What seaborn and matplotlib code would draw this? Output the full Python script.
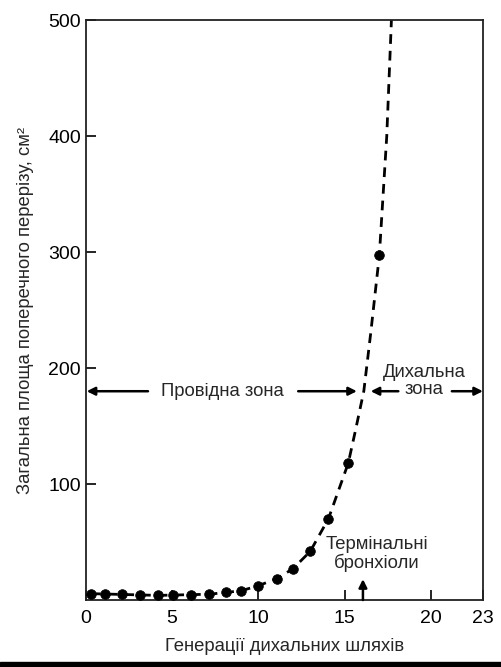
import numpy as np
import pandas as pd
import matplotlib
matplotlib.use('Agg')
import matplotlib.pyplot as plt
import seaborn as sns

# дані, зчитані з рисунку
generation = [0.3, 1.1, 2.1, 3.15, 4.2, 5.05, 6.1, 7.15, 8.1, 9.0, 10.0, 11.05, 12.0, 13.0, 14.05, 15.2, 17.0]
area = [5.5, 5.5, 4.8, 4.6, 4.0, 4.0, 4.5, 5.0, 6.6, 8.0, 12.4, 18.4, 27, 42, 70, 118, 297]

# пунктирна крива (зчитана з рисунку)
curve_x = [0.3, 4.2, 7.15, 9.0, 10.0, 11.05, 12.0, 13.0, 14.05, 15.2, 15.6, 16.1, 16.5, 17.0, 17.43, 17.7]
curve_y = [5.5, 4.0, 5.0, 8.0, 12.4, 18.4, 27, 42, 70, 118, 145, 180, 230, 297, 400, 500]

x_ticks = [0, 5, 10, 15, 20, 23]
y_ticks = [100, 200, 300, 400, 500]

sns.set_style('ticks')
plt.rcParams['font.family'] = ['Liberation Sans', 'DejaVu Sans']

fig = plt.figure(figsize=(5.02, 6.67), dpi=100)
ax = fig.add_axes([0.171, 0.1004, 0.791, 0.8696])

df = pd.DataFrame({'gen': generation, 'area': area})
sns.lineplot(x=curve_x, y=curve_y, ax=ax, color='black', lw=2,
             linestyle=(0, (3.5, 2.5)), sort=False)
sns.scatterplot(data=df, x='gen', y='area', ax=ax, color='black', s=48,
                edgecolor='black', zorder=3)

ax.set_xlim(0, 23)
ax.set_ylim(0, 500)
ax.set_xticks(x_ticks)
ax.set_yticks(y_ticks)
ax.tick_params(direction='in', length=7, width=1.2, labelsize=14, colors='black')
ax.tick_params(axis='x', pad=7)
for s in ax.spines.values():
    s.set_linewidth(1.3)
    s.set_color('#222222')

ax.set_xlabel('Генерації дихальних шляхів', fontsize=13.3, labelpad=8)
ax.set_ylabel('Загальна площа поперечного перерізу, см²', fontsize=13.3, labelpad=10)

# зони
fs = 13.3
arr = dict(arrowstyle='-|>', color='black', lw=1.8, mutation_scale=12, shrinkA=0, shrinkB=0)
ax.annotate('', xy=(0.05, 180), xytext=(3.6, 180), arrowprops=arr)
ax.annotate('', xy=(15.7, 180), xytext=(12.3, 180), arrowprops=arr)
ax.text(7.9, 180, 'Провідна зона', ha='center', va='center', fontsize=fs)
ax.annotate('', xy=(16.5, 180), xytext=(18.1, 180), arrowprops=arr)
ax.annotate('', xy=(23, 180), xytext=(21.2, 180), arrowprops=arr)
ax.text(19.6, 189, 'Дихальна\nзона', ha='center', va='center', fontsize=fs, linespacing=1.0)

ax.annotate('', xy=(16.05, 18), xytext=(16.05, 0), arrowprops=arr)
ax.text(16.85, 40, 'Термінальні\nбронхіоли', ha='center', va='center', fontsize=fs, linespacing=1.05)

# чорна смуга внизу
fig.patches.append(plt.Rectangle((0, 0), 1, 0.007, transform=fig.transFigure,
                                 color='black', zorder=10))

fig.savefig('out.png', dpi=100)
